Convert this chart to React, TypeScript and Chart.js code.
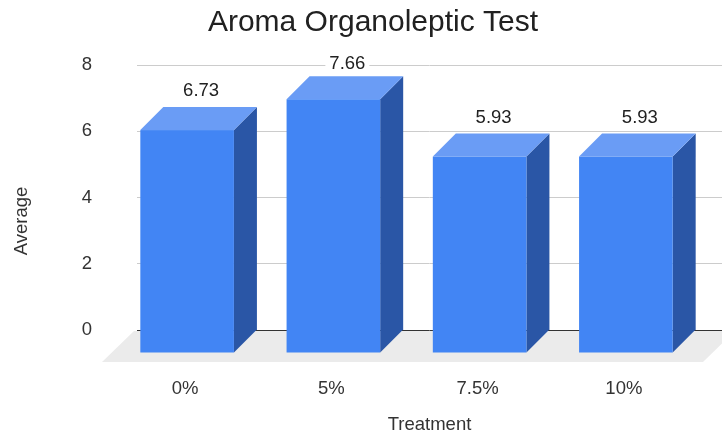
import React, { useEffect, useRef } from 'react';
import { Chart, registerables } from 'chart.js';

Chart.register(...registerables);

const TITLE = 'Aroma Organoleptic Test';
const X_TITLE = 'Treatment';
const Y_TITLE = 'Average';
const categories = ['0%', '5%', '7.5%', '10%'];
const averages = [6.73, 7.66, 5.93, 5.93];
const Y_MIN = 0;
const Y_MAX = 8;
const Y_STEP = 2;

const FONT = "'Liberation Sans', Arial, Helvetica, sans-serif";
const DEPTH = 23;
const FLOOR_DEPTH = 32;
const FRONT_COLOR = '#4285f4';
const TOP_COLOR = '#6a9cf5';
const SIDE_COLOR = '#2a56a6';
const FLOOR_COLOR = '#ebebeb';
const TEXT_COLOR = '#333333';
const TITLE_COLOR = '#212121';

const bar3d = {
  id: 'bar3d',
  beforeDatasetsDraw(chart: any) {
    const { ctx, chartArea: ca } = chart;
    ctx.save();
    ctx.fillStyle = FLOOR_COLOR;
    ctx.beginPath();
    ctx.moveTo(ca.left - 3, ca.bottom + 1);
    ctx.lineTo(ca.right + 13, ca.bottom + 1);
    ctx.lineTo(ca.right + 13 - FLOOR_DEPTH, ca.bottom + FLOOR_DEPTH);
    ctx.lineTo(ca.left - 3 - FLOOR_DEPTH, ca.bottom + FLOOR_DEPTH);
    ctx.closePath();
    ctx.fill();
    ctx.restore();
  },
  afterDatasetsDraw(chart: any) {
    const { ctx, chartArea: ca } = chart;
    const meta = chart.getDatasetMeta(0);
    ctx.save();
    meta.data.forEach((el: any) => {
      const { x, y, base, width } = el.getProps(['x', 'y', 'base', 'width'], true);
      const l = x - width / 2;
      const r = x + width / 2;
      const D = DEPTH;
      ctx.fillStyle = SIDE_COLOR;
      ctx.beginPath();
      ctx.moveTo(r - D, y + D);
      ctx.lineTo(r, y);
      ctx.lineTo(r, base);
      ctx.lineTo(r - D, base + D);
      ctx.closePath();
      ctx.fill();
      ctx.fillStyle = TOP_COLOR;
      ctx.beginPath();
      ctx.moveTo(l - D, y + D);
      ctx.lineTo(l, y);
      ctx.lineTo(r, y);
      ctx.lineTo(r - D, y + D);
      ctx.closePath();
      ctx.fill();
      ctx.fillStyle = FRONT_COLOR;
      ctx.fillRect(l - D, y + D, width, base - y);
    });
    ctx.font = `18.5px ${FONT}`;
    ctx.textAlign = 'center';
    ctx.textBaseline = 'middle';
    meta.data.forEach((el: any, i: number) => {
      const { x, y } = el.getProps(['x', 'y'], true);
      const txt = averages[i].toFixed(2);
      const cx = x - 9;
      const cy = Math.max(y - 16, ca.top - 1);
      const w = ctx.measureText(txt).width;
      ctx.fillStyle = '#ffffff';
      ctx.fillRect(cx - w / 2 - 4, cy - 9, w + 8, 18);
      ctx.fillStyle = TITLE_COLOR;
      ctx.fillText(txt, cx, cy);
    });
    ctx.restore();
  },
  afterDraw(chart: any) {
    const { ctx } = chart;
    ctx.save();
    ctx.fillStyle = TITLE_COLOR;
    ctx.textAlign = 'center';
    ctx.textBaseline = 'middle';
    ctx.font = `30px ${FONT}`;
    ctx.fillText(TITLE, 373, 23);
    ctx.font = `18.5px ${FONT}`;
    ctx.fillStyle = TEXT_COLOR;
    ctx.translate(22, 221);
    ctx.rotate(-Math.PI / 2);
    ctx.fillText(Y_TITLE, 0, 0);
    ctx.restore();
  },
};

export default function App() {
  const ref = useRef<HTMLCanvasElement>(null);
  useEffect(() => {
    if (!ref.current) return;
    const chart = new Chart(ref.current, {
      type: 'bar',
      data: {
        labels: categories,
        datasets: [
          {
            label: Y_TITLE,
            data: averages,
            backgroundColor: 'rgba(0,0,0,0)',
            borderWidth: 0,
            barPercentage: 0.64,
            categoryPercentage: 1,
          },
        ],
      },
      options: {
        responsive: false,
        animation: false,
        layout: { padding: { top: 65, left: 0, right: -2, bottom: 0 } },
        plugins: {
          legend: { display: false },
          tooltip: { enabled: false },
          title: { display: false },
        },
        scales: {
          x: {
            grid: { display: false },
            border: { display: false },
            ticks: {
              color: TEXT_COLOR,
              font: { family: FONT, size: 18.5 },
              padding: 39.5,
              labelOffset: -DEPTH - 2,
            },
            title: {
              display: true,
              text: X_TITLE,
              color: TEXT_COLOR,
              font: { family: FONT, size: 18.5 },
              padding: { top: 0, bottom: 0 },
            },
            afterFit: (s: any) => {
              s.height = 106;
            },
          },
          y: {
            min: Y_MIN,
            max: Y_MAX,
            ticks: {
              stepSize: Y_STEP,
              color: TEXT_COLOR,
              font: { family: FONT, size: 18.5 },
              padding: 45,
            },
            grid: {
              drawTicks: false,
              color: (c: any) => (c.tick && c.tick.value === 0 ? '#333333' : '#cccccc'),
            },
            border: { display: false },
            afterFit: (s: any) => {
              s.width = 137;
            },
          },
        },
      },
      plugins: [bar3d],
    });
    return () => chart.destroy();
  }, []);
  return (
    <div style={{ position: 'fixed', left: 0, top: 0, width: 722, height: 436, background: '#fff' }}>
      <canvas ref={ref} width={722} height={436} />
    </div>
  );
}
